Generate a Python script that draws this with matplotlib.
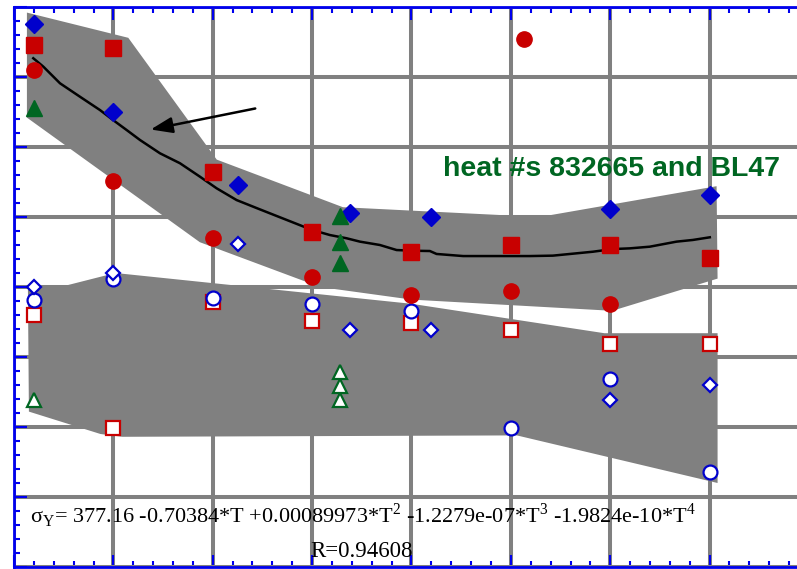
import numpy as np
import matplotlib
matplotlib.use('Agg')
import matplotlib.pyplot as plt
from matplotlib.patches import Polygon
from matplotlib.ticker import MultipleLocator

plt.rcParams['mathtext.fontset'] = 'custom'
plt.rcParams['mathtext.rm'] = 'Liberation Serif'

# temperature (C) / yield stress (MPa)
# filled symbols (upper family)
dia_T = [20, 100, 225, 338, 420, 600, 700]
dia_S = [388, 325, 273, 253, 250, 256, 266]
sq_T = [20, 100, 200, 300, 400, 500, 600, 700]
sq_S = [373, 371, 282, 239, 225, 230, 230, 221]
circ_T = [20, 100, 200, 300, 400, 500, 600, 513]
circ_S = [355, 276, 235, 207, 194, 197, 188, 377]
tri_T = [20, 328, 328, 328]
tri_S = [328, 251, 232, 217]

# open symbols (lower family)
odia_T = [20, 100, 225, 338, 420, 600, 700]
odia_S = [200, 210, 231, 169, 169, 119, 130]
ocirc_T = [20, 100, 200, 300, 400, 500, 600, 700]
ocirc_S = [191, 206, 192, 188, 183, 99, 134, 68]
osq_T = [20, 100, 200, 300, 400, 500, 600, 700]
osq_S = [180, 99, 189, 176, 174, 169, 159, 159]
otri_T = [20, 328, 328, 328]
otri_S = [119, 139, 129, 119]

# fitted curve
fit_T = [19.4, 29.5, 46.3, 66.4, 86.5, 99.6, 113.4, 126.8, 146.9, 167, 187.1,
         203.9, 224, 245.5, 267.6, 300.1, 318, 334.7, 348.1, 368.2, 385, 401.7,
         418.5, 425.2, 452, 519.1, 542.3, 582.5, 602.6, 619.7, 639.8, 666.7,
         683.1, 700.2]
fit_S = [363.4, 357.4, 345.5, 335.9, 326.4, 319.3, 312.1, 305, 295.5, 288.4,
         278.8, 270.5, 262.1, 256.0, 249.8, 240.7, 237.1, 234.8, 232.4, 230,
         226.4, 225.9, 225.7, 223.6, 222.1, 222.1, 222.4, 225.2, 227.1, 227.6,
         228.8, 232.4, 233.6, 235.5]

# scatter bands
upper_T = [13, 115, 204, 331, 529, 707, 708, 602, 400, 308, 187, 13]
upper_S = [396, 378, 291, 257, 250, 272, 206, 183, 191, 200, 232, 321]
lower_T = [14, 41, 102, 400, 594, 708, 708, 506, 109, 87, 15]
lower_S = [199, 199, 210, 188, 167, 167, 60, 94, 93, 95, 111]

red = '#c80000'
blue = '#0000cc'
axis_blue = '#0000ee'
green = '#006622'

fig = plt.figure(figsize=(7.97, 5.69), dpi=100)
# right spine (T=800) falls just outside the picture
ax = fig.add_axes([14 / 797, 2 / 569, 795 / 797, 560 / 569])
ax.set_xlim(0, 800)
ax.set_ylim(0, 400)

ax.xaxis.set_major_locator(MultipleLocator(100))
ax.xaxis.set_minor_locator(MultipleLocator(20))
ax.yaxis.set_major_locator(MultipleLocator(50))
ax.yaxis.set_minor_locator(MultipleLocator(10))
ax.grid(True, which='major', color='#808080', linewidth=2.9, zorder=0)
ax.set_axisbelow(True)
ax.tick_params(which='both', direction='in', top=True, right=True,
               labelbottom=False, labelleft=False, color=axis_blue, width=1.5)
ax.tick_params(which='major', length=9)
ax.tick_params(which='minor', length=4.5)
for s in ax.spines.values():
    s.set_color(axis_blue)
    s.set_linewidth(2)

ax.add_patch(Polygon(np.column_stack([upper_T, upper_S]), closed=True,
                     facecolor='#808080', edgecolor='none', zorder=1))
ax.add_patch(Polygon(np.column_stack([lower_T, lower_S]), closed=True,
                     facecolor='#808080', edgecolor='none', zorder=1))

ax.plot(fit_T, fit_S, color='black', linewidth=1.8, zorder=2)

kw = dict(linestyle='none', zorder=3)
ax.plot(osq_T, osq_S, marker='s', ms=10, mfc='white', mec=red, mew=1.6, **kw)
ax.plot(ocirc_T, ocirc_S, marker='o', ms=10, mfc='white', mec=blue, mew=1.6, **kw)
ax.plot(odia_T, odia_S, marker='D', ms=7.5, mfc='white', mec=blue, mew=1.6, **kw)
ax.plot(otri_T, otri_S, marker='^', ms=9.5, mfc='white', mec=green, mew=1.6, **kw)

ax.plot(circ_T, circ_S, marker='o', ms=11, color=red, **kw)
ax.plot(sq_T, sq_S, marker='s', ms=12, color=red, **kw)
ax.plot(dia_T, dia_S, marker='D', ms=9, color=blue, **kw)
ax.plot(tri_T, tri_S, marker='^', ms=12, color=green, **kw)

ax.annotate('', xy=(134.8, 312.1), xytext=(245.5, 327.9),
            arrowprops=dict(arrowstyle='-|>,head_length=0.6,head_width=0.22',
                            color='black', lw=1.8, mutation_scale=22), zorder=4)

ax.text(431.6, 279.3, 'heat #s 832665 and BL47', color=green,
        fontsize=20.5, fontweight='bold', family='Liberation Sans',
        ha='left', va='baseline', zorder=5)

ax.text(16, 31, 'σ$_{\\mathrm{Y}}$= 377.16 -0.70384*T +0.00089973*T$^2$ '
        '-1.2279e-07*T$^3$ -1.9824e-10*T$^4$',
        fontsize=16, family='Liberation Serif', ha='left', va='baseline',
        zorder=5)
ax.text(297.8, 7.1, 'R=0.94608', fontsize=16.5, family='Liberation Serif',
        ha='left', va='baseline', zorder=5)

fig.savefig('out.png', dpi=100)
